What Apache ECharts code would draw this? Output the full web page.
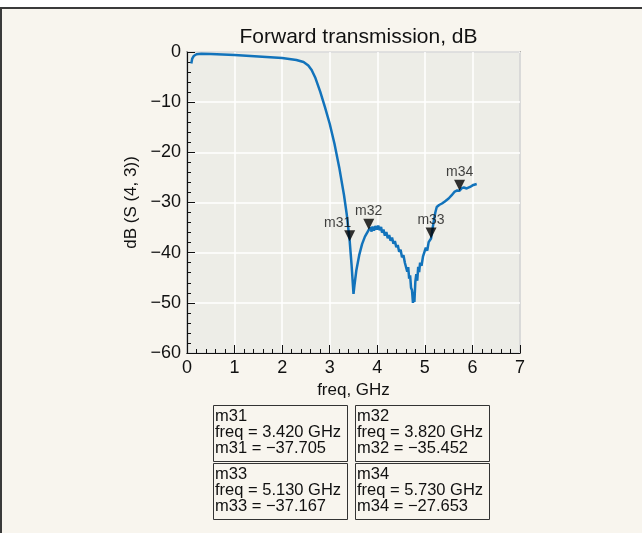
<!DOCTYPE html>
<html>
<head>
<meta charset="utf-8">
<script src="https://cdn.jsdelivr.net/npm/echarts@6/dist/echarts.min.js"></script>
<style>
html,body{margin:0;padding:0;background:#ffffff;}
#chart{width:642px;height:533px;}
</style>
</head>
<body>
<div id="chart"></div>
<script>
// ---- Data ----
const freq = [0.09,0.11,0.14,0.2,0.3,0.5,1.0,1.5,2.0,2.3,2.45,2.55,2.62,2.7,2.8,2.9,3.0,3.1,3.2,3.3,3.36,3.42,3.46,3.5,3.52,3.56,3.62,3.68,3.74,3.82,3.86,3.88,3.9,3.93,3.96,3.99,4.02,4.05,4.08,4.1,4.13,4.16,4.19,4.22,4.25,4.28,4.31,4.34,4.37,4.4,4.43,4.46,4.49,4.52,4.55,4.58,4.61,4.63,4.65,4.67,4.69,4.71,4.73,4.75,4.77,4.78,4.8,4.82,4.84,4.86,4.88,4.9,4.93,4.96,4.99,5.02,5.05,5.08,5.11,5.13,5.16,5.19,5.22,5.25,5.3,5.36,5.42,5.5,5.56,5.62,5.68,5.73,5.77,5.82,5.88,5.95,6.02,6.09];
const s43 = [-2.3,-1.3,-0.8,-0.45,-0.35,-0.4,-0.6,-0.9,-1.2,-1.6,-2.0,-2.7,-3.6,-5.2,-7.9,-11.0,-14.3,-18.3,-23.0,-28.5,-32.5,-37.7,-42.5,-48.2,-46.5,-43.5,-40.5,-38.3,-36.8,-35.45,-35.0,-35.8,-34.8,-35.6,-34.7,-35.4,-34.6,-35.5,-34.9,-36.0,-35.4,-36.6,-35.9,-37.1,-36.5,-37.6,-37.0,-38.2,-37.7,-38.9,-38.5,-39.8,-39.4,-40.9,-40.5,-42.0,-42.2,-43.8,-42.9,-45.2,-44.5,-47.0,-47.5,-50.0,-47.8,-49.8,-45.8,-44.3,-45.6,-42.8,-43.9,-42.0,-42.6,-40.8,-40.8,-39.0,-39.6,-37.9,-38.0,-37.17,-35.3,-33.6,-32.0,-30.9,-30.5,-30.2,-29.8,-29.2,-28.6,-27.9,-27.6,-27.65,-27.2,-27.0,-27.2,-26.9,-26.5,-26.3];

const markerNames = ['m31','m32','m33','m34'];
const markerFreq = [3.420, 3.820, 5.130, 5.730];
const markerVal = [-37.705, -35.452, -37.167, -27.653];

const xTicks = [0,1,2,3,4,5,6,7];
const yTicks = [0,-10,-20,-30,-40,-50,-60];

// ---- Build ----
const lineData = freq.map((f,i)=>[f,s43[i]]);
const markerData = markerNames.map((n,i)=>({
  name:n, value:[markerFreq[i], markerVal[i]],
  label:{offset: i===0 ? [-12,-13] : [0,-13]}
}));

const boxPos = [[213,405],[355,405],[213,463],[355,463]];
const graphics = [{
  type:'rect', z:-100, silent:true,
  shape:{x:1,y:8,width:700,height:600},
  style:{fill:'#f8f5ee', stroke:'#3a3a3a', lineWidth:2}
}];
markerNames.forEach((n,i)=>{
  const [bx,by] = boxPos[i];
  graphics.push({type:'rect', shape:{x:bx+0.5,y:by+0.5,width:134,height:56},
    style:{fill:'none', stroke:'#333', lineWidth:1}});
  const lines = [n, 'freq = ' + markerFreq[i].toFixed(3) + ' GHz', n + ' = \u2212' + Math.abs(markerVal[i]).toFixed(3)];
  lines.forEach((t,k)=>{
    graphics.push({type:'text', x:bx+2, y:by+11+k*16.3,
      style:{text:t, fill:'#111', font:'16.5px "Liberation Sans", Arial, sans-serif', textVerticalAlign:'middle', textAlign:'left'}});
  });
});

const chart = echarts.init(document.getElementById('chart'), null, {renderer:'canvas'});
const fontFam = '"Liberation Sans", Arial, sans-serif';
chart.setOption({
  animation:false,
  backgroundColor:'#ffffff',
  title:{text:'Forward transmission, dB', left:353.5, textAlign:'center', top:22,
    textStyle:{fontSize:21, fontWeight:'normal', color:'#111', fontFamily:fontFam}},
  grid:{left:187, right:122, top:52, bottom:180, show:true, backgroundColor:'#ededE7', borderColor:'#111', borderWidth:1.2},
  xAxis:{type:'value', min:0, max:7, interval:1,
    name:'freq, GHz', nameLocation:'middle', nameGap:27,
    nameTextStyle:{fontSize:17, color:'#111', fontFamily:fontFam},
    axisLine:{show:true, onZero:false, lineStyle:{color:'#111', width:1.2}},
    axisTick:{show:true, inside:true, length:8, lineStyle:{color:'#111', width:1}},
    minorTick:{show:true, splitNumber:5, length:4, lineStyle:{color:'#111', width:1}},
    splitLine:{show:true, lineStyle:{color:'#ffffff', width:1.5}},
    axisLabel:{fontSize:18, color:'#111', fontFamily:fontFam, margin:6,
      formatter:(v)=> xTicks.includes(v) ? String(v) : ''}},
  yAxis:{type:'value', min:-60, max:0, interval:10,
    name:'dB (S (4, 3))', nameLocation:'middle', nameGap:46, nameRotate:90,
    nameTextStyle:{fontSize:17, color:'#111', fontFamily:fontFam},
    axisLine:{show:true, onZero:false, lineStyle:{color:'#111', width:1.2}},
    axisTick:{show:true, inside:true, length:8, lineStyle:{color:'#111', width:1}},
    minorTick:{show:true, splitNumber:5, length:4, lineStyle:{color:'#111', width:1}},
    splitLine:{show:true, lineStyle:{color:'#ffffff', width:1.5}},
    axisLabel:{fontSize:18, color:'#111', fontFamily:fontFam, margin:6,
      formatter:(v)=> yTicks.includes(v) ? (v<0 ? '\u2212'+Math.abs(v) : String(v)) : ''}},
  series:[
    {type:'line', data:lineData, showSymbol:false, smooth:false, clip:true,
      lineStyle:{color:'#1273bb', width:2.5}, z:2},
    {type:'scatter', data:markerData, symbol:'triangle', symbolRotate:180, symbolSize:[11,11],
      symbolOffset:[0,-5.5], itemStyle:{color:'#000'}, z:3,
      label:{show:true, position:'inside', formatter:'{b}', fontSize:14, color:'#111', fontFamily:fontFam}}
  ],
  graphic:graphics
});
</script>
</body>
</html>
